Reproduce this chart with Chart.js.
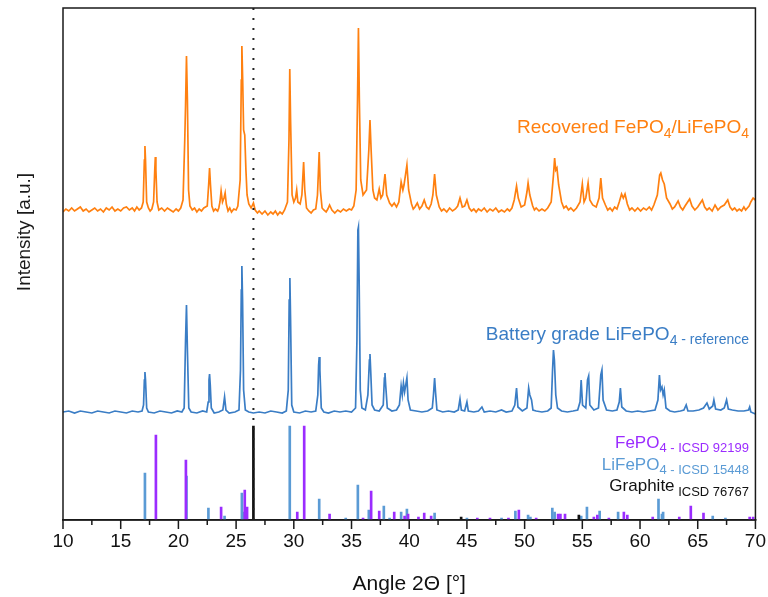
<!DOCTYPE html>
<html>
<head>
<meta charset="utf-8">
<script src="https://cdn.jsdelivr.net/npm/chart.js@4.4.1/dist/chart.umd.min.js"></script>
<style>
  html, body { margin: 0; padding: 0; background: #fff; }
  #wrap { width: 768px; height: 597px; }
</style>
</head>
<body>
<div id="wrap"><canvas id="xrd"></canvas></div>
<script>
const FONT = "'Liberation Sans', Arial, sans-serif";

// x axis
const xTicks = [10, 15, 20, 25, 30, 35, 40, 45, 50, 55, 60, 65, 70];
const xMinorTicks = [12.5, 17.5, 22.5, 27.5, 32.5, 37.5, 42.5, 47.5, 52.5, 57.5, 62.5, 67.5];
const graphiteLine = 26.5;

// measured patterns [2theta, intensity (offset stacked, a.u.)]
const recovered = [
  [10,308],[10.25,311],[10.5,309],[10.75,312],[11,309],[11.25,311],[11.5,313],[11.75,309],[12,311],[12.25,308],[12.5,310],[12.75,312],[13,309],[13.25,311],[13.5,308],[13.75,312],[14,310],[14.25,313],[14.5,309],[14.75,311],[15,309],[15.25,312],[15.5,313],[15.75,310],[16,312],[16.2,309],[16.4,313],[16.6,310],[16.8,312],
  [16.95,318],[17.05,360],[17.1,374],[17.15,360],[17.25,318],[17.4,312],
  [17.55,309],[17.7,311],[17.85,318],[17.95,350],[18.0,363],[18.05,350],[18.15,318],[18.3,310],
  [18.55,312],[18.8,309],[19.05,312],[19.3,310],[19.55,308],[19.8,311],[20.0,309],[20.2,312],[20.4,320],[20.55,380],[20.62,415],[20.7,464],[20.78,420],[20.88,330],[21.0,314],
  [21.2,310],[21.4,312],[21.6,308],[21.8,311],[22.0,309],[22.2,312],[22.5,314],[22.62,335],[22.7,352],[22.78,335],[22.9,314],[23.05,309],[23.2,311],
  [23.4,309],[23.5,312],[23.6,318],[23.7,329],[23.82,318],[23.95,322],[24.05,327],[24.15,316],[24.3,309],[24.45,312],
  [24.6,308],[24.8,311],[25.0,310],[25.15,314],[25.35,340],[25.45,440],[25.5,474],[25.57,440],[25.65,390],[25.75,385],[25.85,350],[25.95,325],[26.1,316],[26.3,312],[26.5,317],[26.65,310],
  [26.85,307],[27,309],[27.25,306],[27.5,309],[27.75,305],[28,308],[28.2,306],[28.4,309],[28.6,305],[28.8,308],[29.0,306],[29.2,310],[29.45,318],[29.58,380],[29.65,451],[29.72,400],[29.85,325],[30.0,318],[30.15,322],[30.25,330],[30.35,318],[30.55,316],[30.7,325],[30.85,358],[30.95,330],[31.1,312],[31.3,309],[31.5,307],
  [31.7,310],[31.9,311],[32.05,325],[32.2,368],[32.3,330],[32.45,312],[32.6,310],[32.8,308],[32.95,311],[33.1,315],[33.3,310],[33.55,307],[33.8,310],[34.05,308],[34.3,311],[34.55,309],[34.8,311],[35.0,310],[35.2,314],
  [35.4,330],[35.52,420],[35.6,492],[35.68,420],[35.8,340],[36.0,325],[36.3,330],[36.5,370],[36.6,400],[36.7,370],[36.85,330],[37.0,322],[37.2,320],[37.4,331],[37.55,322],[37.7,325],[37.9,346],[38.05,325],[38.3,317],[38.5,314],[38.7,317],[38.9,313],
  [39.1,318],[39.3,338],[39.45,330],[39.55,335],[39.8,355],[39.95,330],[40.2,316],[40.35,311],[40.5,313],[40.7,317],[40.9,311],[41.1,314],[41.3,320],[41.5,313],[41.7,311],[41.9,316],[42.05,325],[42.2,346],[42.35,325],[42.6,313],
  [42.8,309],[43,311],[43.25,308],[43.5,312],[43.75,309],[44,311],[44.2,314],[44.4,322],[44.6,313],[44.8,314],[45.0,320],[45.2,312],[45.4,309],[45.6,311],[45.8,308],[46,311],[46.25,309],[46.5,312],[46.75,308],[47,311],[47.25,309],[47.5,312],[47.75,308],[48,310],[48.25,308],[48.5,311],[48.7,309],[48.9,312],
  [49.1,320],[49.3,334],[49.45,322],[49.7,313],[50.0,315],[50.2,328],[50.3,337],[50.45,325],[50.7,314],[50.85,310],[51,312],[51.25,309],[51.5,311],[51.75,309],[52,312],[52.3,318],[52.5,345],[52.6,362],[52.7,350],[52.8,352],[52.95,335],[53.2,318],[53.4,312],[53.6,314],[53.8,310],[54,312],[54.25,309],[54.5,312],
  [54.8,318],[55.0,336],[55.15,318],[55.3,322],[55.5,337],[55.65,320],[55.9,315],[56.2,313],[56.45,322],[56.6,342],[56.75,322],[57,315],[57.2,310],[57.4,312],[57.6,309],[57.8,313],[58.0,311],[58.2,318],[58.4,326],[58.55,322],[58.7,326],[58.9,316],[59.1,310],[59.3,312],
  [59.55,309],[59.8,312],[60.05,309],[60.3,312],[60.55,310],[60.8,313],[61.0,310],[61.2,315],[61.5,325],[61.7,345],[61.8,347],[61.95,340],[62.1,336],[62.3,322],[62.6,316],[62.8,311],[63.0,313],[63.3,319],[63.5,313],[63.7,310],[63.9,314],[64.3,321],[64.5,314],[64.75,310],[65.0,313],[65.4,320],[65.6,313],[65.8,310],[66.0,312],[66.25,309],[66.5,315],[66.75,310],[67.0,313],[67.3,315],[67.6,320],[67.8,313],[68.0,310],[68.2,312],[68.4,309],[68.6,311],[68.8,309],[69.0,313],[69.15,310],[69.3,312],[69.45,314],[69.6,318],[69.8,322],[70,320]
];

const battery = [
  [10,108],[10.5,109],[11,107],[11.5,109],[12,108],[12.5,107],[13,109],[13.5,108],[14,107],[14.5,109],[15,108],[15.5,107],[16,109],[16.5,108],[16.85,109],
  [16.98,115],[17.05,140],[17.1,148],[17.15,140],[17.25,112],[17.4,108],
  [17.9,107],[18.4,109],[18.9,108],[19.4,107],[19.9,109],[20.3,108],[20.5,112],[20.62,180],[20.7,215],[20.78,170],[20.9,112],[21.1,108],
  [21.6,107],[22.1,109],[22.45,108],[22.58,118],[22.65,140],[22.7,146],[22.76,135],[22.85,112],[23.1,107],
  [23.5,108],[23.85,110],[24.0,123],[24.12,110],[24.4,107],[24.9,108],[25.25,110],[25.38,150],[25.45,230],[25.5,254],[25.56,220],[25.65,130],[25.8,110],[26.1,108],[26.5,107],
  [27,108],[27.5,107],[28,109],[28.5,108],[29,107],[29.35,109],[29.52,130],[29.6,220],[29.66,242],[29.72,200],[29.82,115],[30.0,108],
  [30.5,107],[31,109],[31.5,108],[31.9,109],[32.08,125],[32.15,155],[32.2,163],[32.26,150],[32.38,112],[32.6,108],
  [33,107],[33.5,109],[34,108],[34.5,109],[35.0,108],[35.35,112],[35.47,180],[35.55,290],[35.6,293],[35.66,240],[35.76,130],[35.9,112],[36.2,110],
  [36.42,125],[36.55,160],[36.6,166],[36.66,150],[36.78,115],[37.0,110],[37.4,109],[37.75,115],[37.85,142],[37.9,147],[37.96,135],[38.1,112],[38.5,109],[38.9,110],
  [39.15,115],[39.3,134],[39.4,125],[39.5,137],[39.6,128],[39.8,142],[39.9,120],[40.1,110],[40.6,109],[41.1,108],[41.6,109],[42.0,112],[42.1,125],[42.2,142],[42.28,128],[42.4,110],
  [42.9,108],[43.4,109],[43.9,108],[44.25,110],[44.4,121],[44.52,110],[44.8,109],[45.0,118],[45.12,109],[45.6,108],[46.0,109],[46.3,113],[46.5,108],[47,109],[47.5,108],[48.0,110],[48.4,108],
  [48.9,109],[49.15,115],[49.3,132],[49.42,113],[49.8,109],[50.2,112],[50.35,132],[50.45,125],[50.6,120],[50.72,110],[51.0,109],[51.5,108],[52.0,109],[52.3,112],[52.42,150],[52.5,170],[52.58,160],[52.7,125],[52.85,112],[53.2,109],
  [53.7,108],[54.2,109],[54.6,110],[54.8,118],[54.9,140],[55.02,115],[55.3,112],[55.45,140],[55.55,144],[55.65,115],[56.0,110],[56.4,112],[56.6,145],[56.7,150],[56.8,120],[57.1,110],[57.6,109],[58.0,110],[58.2,118],[58.3,132],[58.42,113],[58.8,109],
  [59.3,108],[59.8,109],[60.3,108],[60.8,109],[61.3,110],[61.55,120],[61.68,145],[61.78,130],[61.9,133],[62.0,125],[62.1,130],[62.25,112],[62.6,109],[63.0,108],[63.5,109],[63.8,110],[64.0,115],[64.15,109],[64.6,109],[65.1,110],[65.5,112],[65.8,117],[66.0,111],[66.3,114],[66.4,120],[66.55,111],[67.0,110],[67.3,112],[67.5,120],[67.65,111],[68,110],[68.5,109],[69,109],[69.4,110],[69.5,113],[69.6,108],[70,106]
];

// reference patterns (ICSD) - positions and stick heights
const fepo4Pos = [18.05,20.65,23.7,25.75,25.95,30.3,30.9,33.1,36.0,36.7,37.4,38.7,39.6,39.9,40.8,41.3,41.9,45.9,47.0,48.6,49.5,51.0,52.9,53.1,53.5,56.0,56.3,57.3,58.6,58.9,61.1,63.4,64.4,65.5,69.5,69.8];
const fepo4Int = [85,60,13,30,13,8,94,6,2,29,9,8,4,6,3,7,4,2,2,2,10,2,6,6,6,3,5,2,8,5,3,3,14,7,3,3];
const lfpPos = [17.1,20.7,22.6,24.0,25.5,25.6,29.65,32.2,34.5,35.55,36.5,37.8,38.3,39.3,39.8,42.2,45.0,48.0,49.2,50.3,50.5,52.4,52.6,54.9,55.4,56.5,58.1,61.6,61.9,62.0,66.3,67.4];
const lfpInt = [47,44,12,4,27,8,94,21,2,35,10,14,2,8,11,7,2,2,9,5,3,12,8,4,13,9,8,21,6,8,4,2];
const graphitePos = [26.5, 44.5, 54.7];
const graphiteInt = [94, 3, 5];

const ORANGE = '#ff8010';
const BLUE = '#3a7dc5';
const LIGHTBLUE = '#5b9bd5';
const PURPLE = '#9b2cff';

const pts = (arr) => arr.map(([x, y]) => ({ x, y }));
const sticks = (pos, h) => pos.map((x, i) => ({ x, y: h[i] }));

function drawRich(ctx, parts, right, baseline) {
  let total = 0;
  parts.forEach(p => { ctx.font = p.font; p.w = ctx.measureText(p.text).width; total += p.w; });
  let x = right - total;
  ctx.textAlign = 'left';
  ctx.textBaseline = 'alphabetic';
  parts.forEach(p => {
    ctx.font = p.font;
    ctx.fillStyle = p.color;
    ctx.fillText(p.text, x, baseline + (p.dy || 0));
    x += p.w;
  });
}

const decorations = {
  id: 'decorations',
  afterDraw(chart) {
    const { ctx, chartArea: a, scales: { x } } = chart;
    ctx.save();
    // frame
    ctx.strokeStyle = '#1a1a1a';
    ctx.lineWidth = 1.5;
    ctx.strokeRect(a.left, a.top, a.right - a.left, a.bottom - a.top);
    // major + minor ticks
    ctx.beginPath();
    xTicks.forEach(v => {
      const px = x.getPixelForValue(v);
      ctx.moveTo(px, a.bottom);
      ctx.lineTo(px, a.bottom + 9);
    });
    xMinorTicks.forEach(v => {
      const px = x.getPixelForValue(v);
      ctx.moveTo(px, a.bottom);
      ctx.lineTo(px, a.bottom + 5);
    });
    ctx.stroke();

    // y title
    ctx.save();
    ctx.translate(25, 232);
    ctx.rotate(-Math.PI / 2);
    ctx.font = `19px ${FONT}`;
    ctx.fillStyle = '#1a1a1a';
    ctx.textAlign = 'center';
    ctx.textBaseline = 'middle';
    ctx.fillText('Intensity [a.u.]', 0, 0);
    ctx.restore();

    const big = `19px ${FONT}`, med = `17px ${FONT}`, sm = `13px ${FONT}`, sub = `14px ${FONT}`;
    drawRich(ctx, [
      { text: 'Recovered FePO', font: big, color: ORANGE },
      { text: '4', font: sub, color: ORANGE, dy: 5 },
      { text: '/LiFePO', font: big, color: ORANGE },
      { text: '4', font: sub, color: ORANGE, dy: 5 }
    ], 749, 133);
    drawRich(ctx, [
      { text: 'Battery grade LiFePO', font: big, color: BLUE },
      { text: '4', font: sub, color: BLUE, dy: 5 },
      { text: ' - reference', font: sub, color: BLUE, dy: 4 }
    ], 749, 340);
    drawRich(ctx, [
      { text: 'FePO', font: med, color: PURPLE },
      { text: '4', font: sm, color: PURPLE, dy: 4 },
      { text: ' - ICSD 92199', font: sm, color: PURPLE, dy: 4 }
    ], 749, 448);
    drawRich(ctx, [
      { text: 'LiFePO', font: med, color: LIGHTBLUE },
      { text: '4', font: sm, color: LIGHTBLUE, dy: 4 },
      { text: ' - ICSD 15448', font: sm, color: LIGHTBLUE, dy: 4 }
    ], 749, 470);
    drawRich(ctx, [
      { text: 'Graphite', font: med, color: '#111' },
      { text: ' ICSD 76767', font: sm, color: '#111', dy: 5 }
    ], 749, 491);
    ctx.restore();
  }
};

new Chart(document.getElementById('xrd'), {
  type: 'line',
  data: {
    datasets: [
      {
        data: [{ x: graphiteLine, y: 0 }, { x: graphiteLine, y: 512 }],
        borderColor: '#222', borderWidth: 2, borderDash: [2, 8], pointRadius: 0
      },
      { type: 'bar', data: sticks(graphitePos, graphiteInt), backgroundColor: '#111', barThickness: 2, grouped: false },
      { type: 'bar', data: sticks(fepo4Pos, fepo4Int), backgroundColor: PURPLE, barThickness: 2, grouped: false },
      { type: 'bar', data: sticks(lfpPos, lfpInt), backgroundColor: LIGHTBLUE, barThickness: 2, grouped: false },
      { data: pts(battery), borderColor: BLUE, borderWidth: 1.7, pointRadius: 0, tension: 0 },
      { data: pts(recovered), borderColor: ORANGE, borderWidth: 1.7, pointRadius: 0, tension: 0 }
    ]
  },
  options: {
    responsive: true,
    maintainAspectRatio: false,
    animation: false,
    devicePixelRatio: 1,
    layout: { padding: { left: 63, right: 12, top: 8, bottom: 0 } },
    plugins: { legend: { display: false }, tooltip: { enabled: false } },
    scales: {
      x: {
        type: 'linear', min: 10, max: 70, offset: false,
        afterBuildTicks: (s) => { s.ticks = xTicks.map(v => ({ value: v })); },
        afterFit: (s) => { s.height = 77; },
        ticks: { color: '#111', font: { family: FONT, size: 19 }, padding: 2, maxRotation: 0, autoSkip: false },
        grid: { drawOnChartArea: false, drawTicks: true, tickLength: 8, color: 'rgba(0,0,0,0)', lineWidth: 1.5 },
        border: { display: true, color: '#1a1a1a', width: 1.5 },
        title: { display: true, text: 'Angle 2Θ [°]', color: '#111', font: { family: FONT, size: 21 }, padding: { top: 4, bottom: 0 } }
      },
      y: { display: false, min: 0, max: 512 }
    }
  },
  plugins: [decorations]
});
</script>
</body>
</html>
